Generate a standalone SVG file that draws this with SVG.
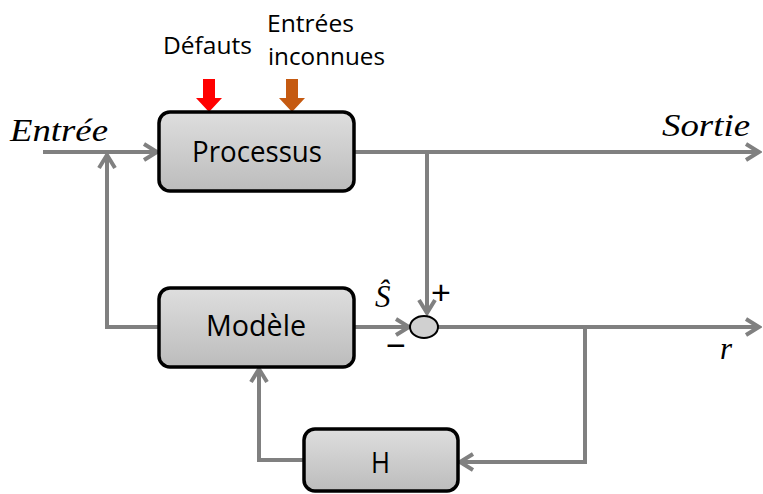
<svg xmlns="http://www.w3.org/2000/svg" width="763" height="494" viewBox="0 0 763 494">
<defs>
<linearGradient id="g" x1="0" y1="0" x2="0" y2="1">
<stop offset="0" stop-color="#dedede"/>
<stop offset="1" stop-color="#bcbcbc"/>
</linearGradient>
<marker id="arr" markerUnits="userSpaceOnUse" markerWidth="18" markerHeight="20" viewBox="0 0 18 20" refX="15" refY="10" orient="auto">
<path d="M2,2 L15,10 L2,18" fill="none" stroke="#808080" stroke-width="4" stroke-linejoin="miter"/>
</marker>
</defs>
<style>
.box{fill:url(#g);stroke:#000;stroke-width:3.5}
.lbl{font-family:"Open Sans","Liberation Sans",sans-serif;font-size:30px;fill:#000}
.math{font-family:"Liberation Serif","DejaVu Serif",serif;font-style:italic;font-size:31px;fill:#000}
.ln{fill:none;stroke:#808080;stroke-width:4}
.top{font-family:"Open Sans","Liberation Sans",sans-serif;font-size:23px;fill:#000}
</style>
<rect width="763" height="494" fill="#fff"/>
<g id="connectors">
<path class="ln" d="M43,152 L157,152" marker-end="url(#arr)"/>
<path class="ln" d="M355,152 L759,152" marker-end="url(#arr)"/>
<path class="ln" d="M427,152 L427,313" marker-end="url(#arr)"/>
<path class="ln" d="M355,327 L409,327" marker-end="url(#arr)"/>
<path class="ln" d="M438,327 L759,327" marker-end="url(#arr)"/>
<path class="ln" d="M585,327 L585,462 L460,462" marker-end="url(#arr)"/>
<path class="ln" d="M304,460 L259,460 L259,369" marker-end="url(#arr)"/>
<path class="ln" d="M159,327 L107,327 L107,155" marker-end="url(#arr)"/>
</g>
<g id="defauts">
<path d="M203,79 L215,79 L215,98 L222,98 L209,112 L196,98 L203,98 Z" fill="#ff0000"/>
<text class="top" x="163" y="54" textLength="89" lengthAdjust="spacingAndGlyphs">Défauts</text>
</g>
<g id="entrees-inconnues">
<path d="M286,79 L298,79 L298,98 L305,98 L292,112 L279,98 L286,98 Z" fill="#c55a11"/>
<text class="top" x="267" y="32" textLength="87" lengthAdjust="spacingAndGlyphs">Entrées</text>
<text class="top" x="268" y="65" textLength="117" lengthAdjust="spacingAndGlyphs">inconnues</text>
</g>
<g id="processus">
<rect class="box" x="159" y="112" width="195" height="79" rx="11"/>
<text class="lbl" x="192" y="162" textLength="130" lengthAdjust="spacingAndGlyphs">Processus</text>
</g>
<g id="modele">
<rect class="box" x="159" y="288" width="195" height="79" rx="11"/>
<text class="lbl" x="206" y="336" textLength="100" lengthAdjust="spacingAndGlyphs">Modèle</text>
</g>
<g id="h">
<rect class="box" x="304" y="429" width="154" height="62" rx="11"/>
<text class="lbl" x="371" y="473" textLength="19" lengthAdjust="spacingAndGlyphs">H</text>
</g>
<g id="sum">
<ellipse cx="424" cy="327" rx="14" ry="11" fill="#d0d0d0" stroke="#000" stroke-width="2"/>
<text x="431" y="304" font-family="Liberation Sans, sans-serif" font-size="34" fill="#000">+</text>
<text x="386" y="357" font-family="Liberation Sans, sans-serif" font-size="34" fill="#000">−</text>
</g>
<g id="labels">
<text class="math" x="10" y="141" textLength="98" lengthAdjust="spacingAndGlyphs">Entrée</text>
<text class="math" x="662" y="136" textLength="88" lengthAdjust="spacingAndGlyphs">Sortie</text>
<text class="math" x="375" y="307" font-size="33">Ŝ</text>
<text class="math" x="720" y="359" font-size="34">r</text>
</g>
</svg>
